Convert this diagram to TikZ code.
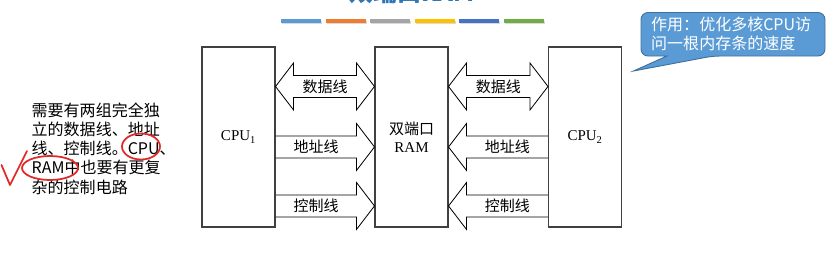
\documentclass[tikz,border=0pt]{standalone}
\usepackage{fontspec}
\setmainfont{Liberation Serif}
\newfontfamily\cjk{Noto Sans CJK SC}
\usepackage{xcolor}
\usepackage{tikz}
\usetikzlibrary{calc}
\definecolor{noteblue}{HTML}{5B9BD5}
\definecolor{noteedge}{HTML}{41719C}
\definecolor{titleblue}{HTML}{2E75B6}
\definecolor{inkred}{HTML}{E02A2A}
\definecolor{barA}{HTML}{5B9BD5}
\definecolor{barB}{HTML}{ED7D31}
\definecolor{barC}{HTML}{A5A5A5}
\definecolor{barD}{HTML}{FFC000}
\definecolor{barE}{HTML}{4472C4}
\definecolor{barF}{HTML}{70AD47}
\newcommand{\figfont}{\fontsize{12.8}{15}\selectfont}
\newcommand{\notefont}{\fontsize{13.66}{16.4}\selectfont}
% double bus: left node, right node, offset below top
\newcommand{\dbus}[3]{%
  \draw[bus] ($(#1.north east)+(0,#3)$) -- ++(18,-23.5) -- ++(0,12.5)
    -- ($(#2.north west)+(-18,#3-11)$) -- ++(0,-12.5) -- ($(#2.north west)+(0,#3)$)
    -- ++(-18,23.5) -- ++(0,-12.5) -- ($(#1.north east)+(18,#3+11)$) -- ++(0,12.5) -- cycle;}
% bus to the right: from node, to node, offset
\newcommand{\rbus}[3]{%
  \draw[bus] ($(#1.north east)+(0,#3-11)$) -- ($(#2.north west)+(-18,#3-11)$)
    -- ++(0,-12.5) -- ($(#2.north west)+(0,#3)$) -- ++(-18,23.5) -- ++(0,-12.5)
    -- ($(#1.north east)+(0,#3+11)$);}
% bus to the left: from node, to node, offset
\newcommand{\lbus}[3]{%
  \draw[bus] ($(#1.north west)+(0,#3-11)$) -- ($(#2.north east)+(18,#3-11)$)
    -- ++(0,-12.5) -- ($(#2.north east)+(0,#3)$) -- ++(18,23.5) -- ++(0,-12.5)
    -- ($(#1.north west)+(0,#3+11)$);}

\begin{document}
\begin{tikzpicture}[x=0.03cm,y=-0.03cm,
  unit/.style={draw=black!75,line width=0.9pt,minimum width=2.19cm,
    minimum height=5.4cm,inner sep=0pt,font=\figfont,align=center},
  bus/.style={draw=black,line width=0.7pt,line join=miter},
  buslabel/.style={font=\figfont\cjk,inner sep=0pt},
  ink/.style={draw=inkred,line width=1.5pt,line cap=round,line join=round}]
  \useasboundingbox (0,0) rectangle (837,270);
  \clip (0,0) rectangle (837,270);
  % Title, cut at the top
  \node[font=\fontsize{20.5}{22}\selectfont\cjk\bfseries,text=titleblue,
    anchor=base,inner sep=0pt] (title) at (412,1) {双端口RAM};
  % Colour bars
  \foreach \c [count=\i from 0] in {barA,barB,barC,barD,barE,barF} {
    \draw[black!15,line width=3.4pt] (282+44.6*\i,22.5) -- ++(40,0);
    \draw[\c,line width=3.4pt] (281+44.6*\i,21) -- ++(40,0);
  }
  % Units
  \node[unit] (cpuA) at (238.5,137) {CPU\textsubscript{1}};
  \node[unit] (ram) at (411.5,137) {{\cjk 双端口}\\RAM};
  \node[unit] (cpuB) at (585,137) {CPU\textsubscript{2}};
  % Buses
  \dbus{cpuA}{ram}{40}
  \dbus{ram}{cpuB}{40}
  \rbus{cpuA}{ram}{100.5}
  \lbus{cpuB}{ram}{100.5}
  \rbus{cpuA}{ram}{159.5}
  \lbus{cpuB}{ram}{159.5}
  % Bus labels
  \node[buslabel] (dataA) at ($(cpuA.north east)!0.5!(ram.north west)+(0,40)$) {数据线};
  \node[buslabel] (dataB) at ($(ram.north east)!0.5!(cpuB.north west)+(0,40)$) {数据线};
  \node[buslabel] (addrA) at ($(cpuA.north east)!0.5!(ram.north west)+(-9,100.5)$) {地址线};
  \node[buslabel] (addrB) at ($(ram.north east)!0.5!(cpuB.north west)+(9,100.5)$) {地址线};
  \node[buslabel] (ctrlA) at ($(cpuA.north east)!0.5!(ram.north west)+(-9,159.5)$) {控制线};
  \node[buslabel] (ctrlB) at ($(ram.north east)!0.5!(cpuB.north west)+(9,159.5)$) {控制线};
  % Callout
  \draw[fill=noteblue,draw=noteedge,line width=0.8pt] (641,34) [rounded corners=6]
    -- (641,12.5) -- (825,12.5) -- (825,56) -- (713,56) [sharp corners]
    -- (633.5,71) -- (667,56) [rounded corners=6] -- (641,56) -- cycle;
  \node[font=\notefont\cjk,text=white,align=left,anchor=west,inner sep=0pt]
    (note) at (651,34) {作用：优化多核CPU访\\问一根内存条的速度};
  % Remark with red ink
  \node[font=\notefont\cjk,align=left,anchor=west,inner sep=0pt]
    (remark) at (31.5,148.5) {需要有两组完全独\\立的数据线、地址\\线、控制线。CPU、\\RAM中也要有更复\\杂的控制电路};
  \draw[ink] (141,146.5) ellipse [x radius=19,y radius=13];
  \draw[ink] (50,168) ellipse [x radius=28,y radius=12];
  \draw[ink] (1.5,165) -- (10,185) -- (27,151);
\end{tikzpicture}
\end{document}
